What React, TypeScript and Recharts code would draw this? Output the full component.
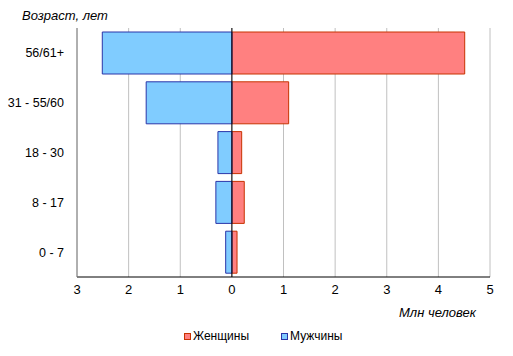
import { BarChart, Bar, XAxis, YAxis, CartesianGrid, ReferenceLine } from 'recharts';

// Age groups, top to bottom
const categories = ['56/61+', '31 - 55/60', '18 - 30', '8 - 17', '0 - 7'];
// Million people
const women = [4.51, 1.1, 0.19, 0.24, 0.1];
const men = [2.51, 1.66, 0.27, 0.31, 0.12];
const xTicks = [-3, -2, -1, 0, 1, 2, 3, 4, 5];

const data = categories.map((age, i) => ({ age, women: women[i], men: -men[i] }));

const RED = '#ff8080';
const RED_EDGE = '#c83200';
const BLUE = '#80ccff';
const BLUE_EDGE = '#2a35a8';
const FONT = '"Liberation Sans", Arial, sans-serif';

function LegendBox() {
  const items = [
    { name: 'Женщины', fill: RED, edge: RED_EDGE },
    { name: 'Мужчины', fill: BLUE, edge: BLUE_EDGE },
  ];
  return (
    <div style={{ position: 'absolute', left: 184, top: 329, display: 'flex', gap: 32, fontSize: 12 }}>
      {items.map((it) => (
        <div key={it.name} style={{ display: 'flex', alignItems: 'center' }}>
          <span style={{ width: 5, height: 5, background: it.fill, border: `1px solid ${it.edge}`, marginRight: 2 }} />
          <span>{it.name}</span>
        </div>
      ))}
    </div>
  );
}

export default function App() {
  return (
    <div style={{ position: 'absolute', left: 0, top: 0, width: 513, height: 356, fontFamily: FONT, color: '#000', background: '#fff' }}>
      <div style={{ position: 'absolute', left: 22, top: 8, fontSize: 13, fontStyle: 'italic' }}>Возраст, лет</div>
      <div style={{ position: 'absolute', left: 399, top: 305, fontSize: 13, fontStyle: 'italic' }}>Млн человек</div>
      <BarChart
        width={513}
        height={356}
        data={data}
        layout="vertical"
        stackOffset="sign"
        barCategoryGap={4}
        margin={{ top: 28, right: 23, bottom: 49, left: 0 }}
      >
        <CartesianGrid horizontal={false} stroke="#c0c0c0" />
        <XAxis
          type="number"
          domain={[-3, 5]}
          ticks={xTicks}
          interval={0}
          tickFormatter={(v: number) => String(Math.abs(v))}
          tickLine={false}
          axisLine={{ stroke: '#000' }}
          tick={{ fill: '#000', fontSize: 13, fontFamily: FONT }}
          height={30}
        />
        <XAxis xAxisId="top" orientation="top" type="number" domain={[-3, 5]} tick={false} tickLine={false} height={0} axisLine={{ stroke: '#808080' }} />
        <YAxis
          type="category"
          dataKey="age"
          width={77}
          tickLine={false}
          tickSize={6}
          tickMargin={7}
          axisLine={{ stroke: '#808080' }}
          tick={{ fill: '#000', fontSize: 12.5, fontFamily: FONT }}
        />
        <YAxis yAxisId="right" orientation="right" type="category" dataKey="age" width={0} tick={false} tickLine={false} axisLine={{ stroke: '#808080' }} />
        <Bar dataKey="women" name="Женщины" stackId="a" fill={RED} stroke={RED_EDGE} isAnimationActive={false} />
        <Bar dataKey="men" name="Мужчины" stackId="a" fill={BLUE} stroke={BLUE_EDGE} isAnimationActive={false} />
        <ReferenceLine x={0} stroke="#000" />
      </BarChart>
      <LegendBox />
    </div>
  );
}
